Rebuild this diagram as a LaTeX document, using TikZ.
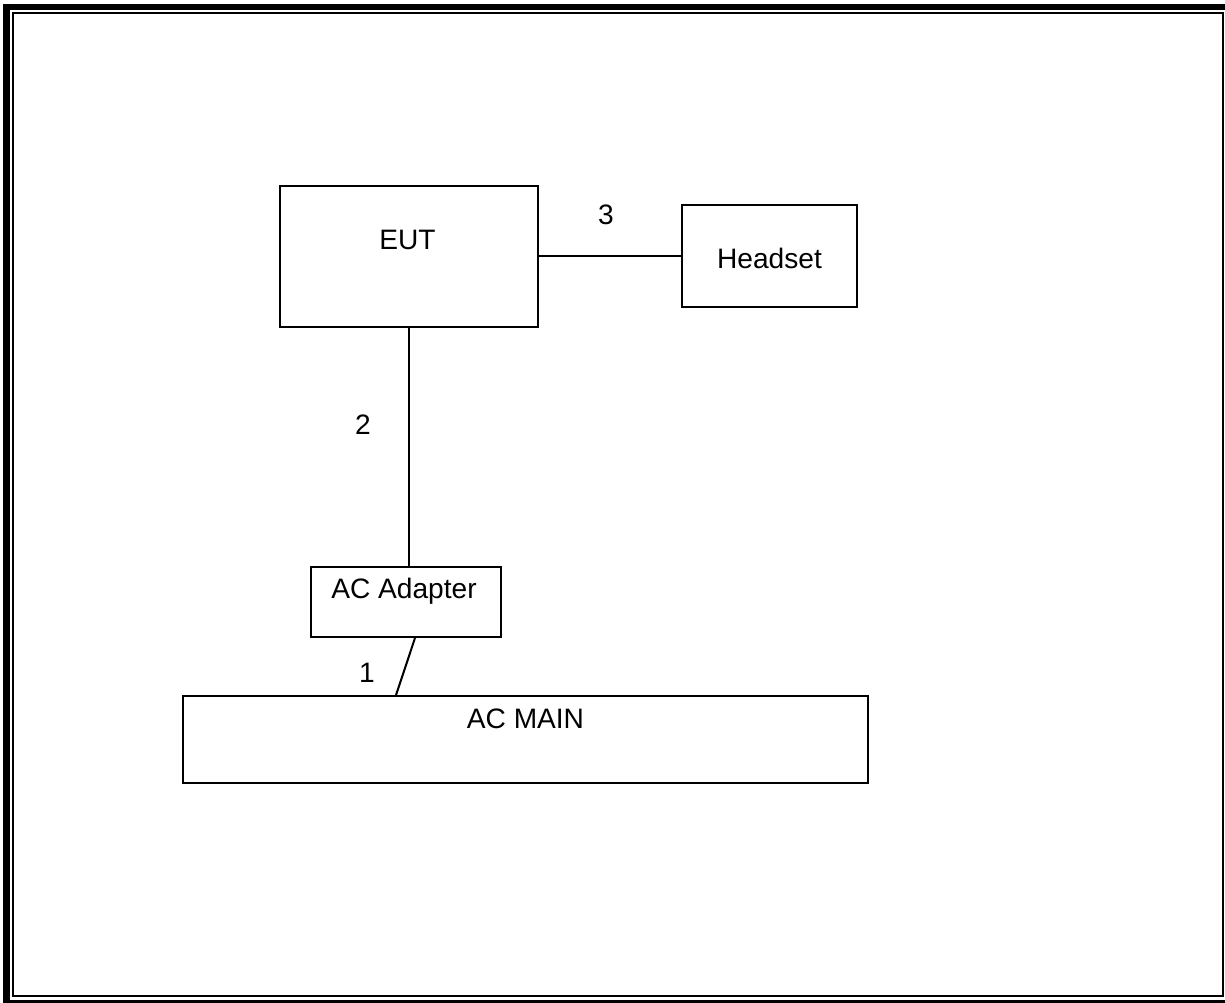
\documentclass[tikz,border=0pt]{standalone}
\usepackage{fontspec}
\setmainfont{Liberation Sans}
\usepackage{tikz}
\usetikzlibrary{positioning, calc}

\begin{document}
\begin{tikzpicture}[x=0.02cm,y=-0.02cm, font=\fontsize{16}{19}\selectfont,
  unit/.style={draw=black, line width=1.15pt, rectangle, inner sep=0pt},
  cable/.style={draw=black, line width=1.15pt},
  txt/.style={anchor=base, inner sep=0pt},
]
\useasboundingbox (0,0) rectangle (1225,1003);
% ---------- page frame (thick outside, thin inside) ----------
\draw[line width=3.97pt] (6.5,7) rectangle (1229.5,1003.5);
\draw[line width=1.4pt] (13,13) rectangle (1223,996);
% ---------- units ----------
\node[unit, minimum width=5.16cm, minimum height=2.83cm] (eut)  at (409,256.75) {};
\node[unit, minimum width=3.5cm,  minimum height=2.04cm] (hs)   at (769.5,256)  {};
\node[unit, minimum width=3.8cm,  minimum height=1.4cm]  (ad)   at (406,602)    {};
\node[unit, minimum width=13.7cm, minimum height=1.74cm] (main) at (525.5,739.5) {};
\node[txt] (eutT)  at (407.5,250) {EUT};
\node[txt] (hsT)   at (769.5,269) {Headset};
\node[txt] (adT)   at (404,599)   {AC Adapter};
\node[txt] (mainT) at (525.5,728) {AC MAIN};
% ---------- cables ----------
\draw[cable] (hs.west -| eut.east) -- (hs.west);                          % 3
\draw[cable] (eut.south) -- (eut.south |- ad.north);                      % 2
\draw[cable] ($(ad.south)+(9,0)$) -- ($(main.north west)+(214,0)$);       % 1
% ---------- cable numbers ----------
\node[txt] (n3) at (606,225) {3};
\node[txt] (n2) at (363,435) {2};
\node[txt] (n1) at (367,683) {1};
\end{tikzpicture}
\end{document}
